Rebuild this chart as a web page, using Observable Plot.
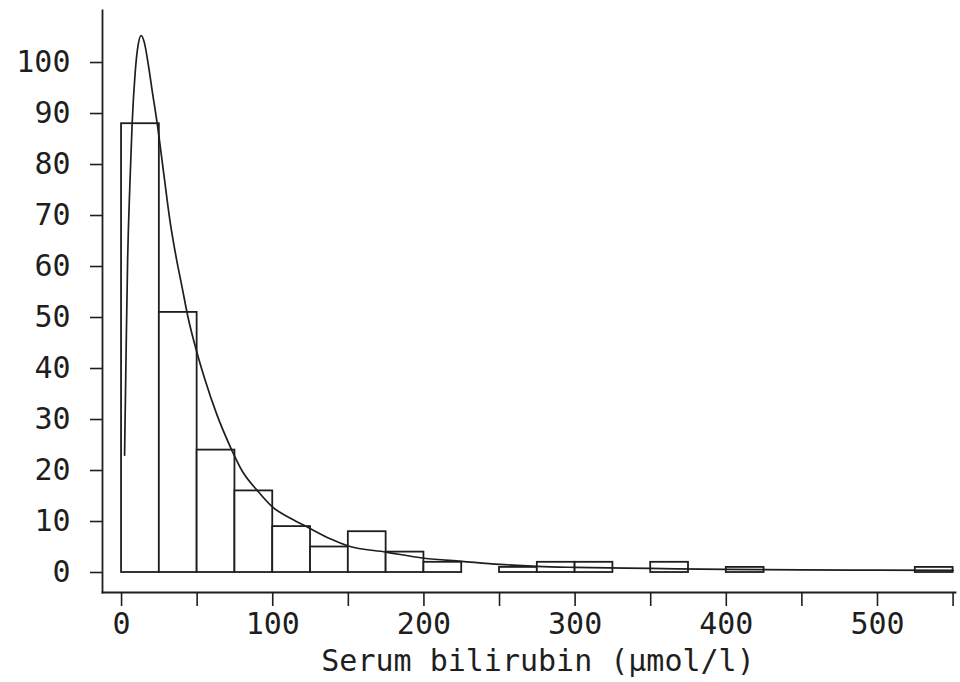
<!DOCTYPE html>
<html>
<head>
<meta charset="utf-8">
<script src="https://cdn.jsdelivr.net/npm/d3@7"></script>
<script src="https://cdn.jsdelivr.net/npm/@observablehq/plot@0.6"></script>
<style>
  html, body { margin: 0; padding: 0; background: #fff; }
  #chart svg { display: block; }
</style>
</head>
<body>
<div id="chart"></div>
<script>
// Histogram bins (µmol/l), bin width 25
const binStart = [0, 25, 50, 75, 100, 125, 150, 175, 200, 225, 250, 275, 300, 325, 350, 375, 400, 425, 450, 475, 500, 525];
const binCount = [88, 51, 24, 16, 9, 5, 8, 4, 2, 0, 1, 2, 2, 0, 2, 0, 1, 0, 0, 0, 0, 1];
const binWidth = 25;

// Fitted density curve
const curveX = [2, 3, 4, 5.5, 7, 9, 11, 13, 15, 18, 20, 23.6, 28, 32, 36, 40, 44, 50, 55, 63, 72, 80, 90, 100, 112, 125, 138, 150, 175, 200, 225, 250, 275, 300, 350, 400, 450, 500, 550];
const curveY = [23, 43, 61, 76, 88, 98, 103.5, 105.3, 104, 99, 95, 88, 78, 69, 62, 56, 50, 43, 38, 31, 24.6, 19.8, 16, 12.8, 10.6, 8.6, 6.6, 5.2, 4.0, 2.8, 2.2, 1.6, 1.2, 1.0, 0.8, 0.6, 0.5, 0.45, 0.4];

// Axis ticks
const yTicks = [0, 10, 20, 30, 40, 50, 60, 70, 80, 90, 100];
const xTicks = [0, 50, 100, 150, 200, 250, 300, 350, 400, 450, 500, 550];
const xLabelled = [0, 100, 200, 300, 400, 500];
const xTitle = "Serum bilirubin (\u03bcmol/l)";

const bins = binStart.map((x0, i) => ({x1: x0, x2: x0 + binWidth, count: binCount[i]})).filter(d => d.count > 0);
const curve = curveX.map((x, i) => ({x, y: curveY[i]}));

const ink = "#1e1e1e";
const chart = Plot.plot({
  width: 960,
  height: 682,
  marginLeft: 102,
  marginRight: 5,
  marginTop: 10,
  marginBottom: 90,
  style: {fontFamily: "'DejaVu Sans Mono', monospace", fontSize: "30px", color: ink, background: "#fff"},
  x: {domain: [-12.6, 551.6]},
  y: {domain: [-3.92, 110.2]},
  marks: [
    Plot.frame({anchor: "left", stroke: ink, strokeWidth: 1.8}),
    Plot.frame({anchor: "bottom", stroke: ink, strokeWidth: 1.8}),
    Plot.axisY({ticks: yTicks, tickSize: 12, tickPadding: 20, label: null, stroke: ink, strokeWidth: 1.6, fill: ink}),
    Plot.axisX({ticks: xTicks, tickSize: 14, tickPadding: 6, label: null, stroke: ink, strokeWidth: 1.6, fill: ink,
      tickFormat: d => xLabelled.includes(d) ? String(d) : ""}),
    Plot.rectY(bins, {x1: "x1", x2: "x2", y: "count", fill: "white", stroke: ink, strokeWidth: 1.8}),
    Plot.line(curve, {x: "x", y: "y", stroke: ink, strokeWidth: 1.7, curve: "monotone-x"}),
    Plot.text([xTitle], {frameAnchor: "bottom", dy: 78, dx: 9, fontSize: 30, fill: ink})
  ]
});
document.getElementById("chart").appendChild(chart);
</script>
</body>
</html>
